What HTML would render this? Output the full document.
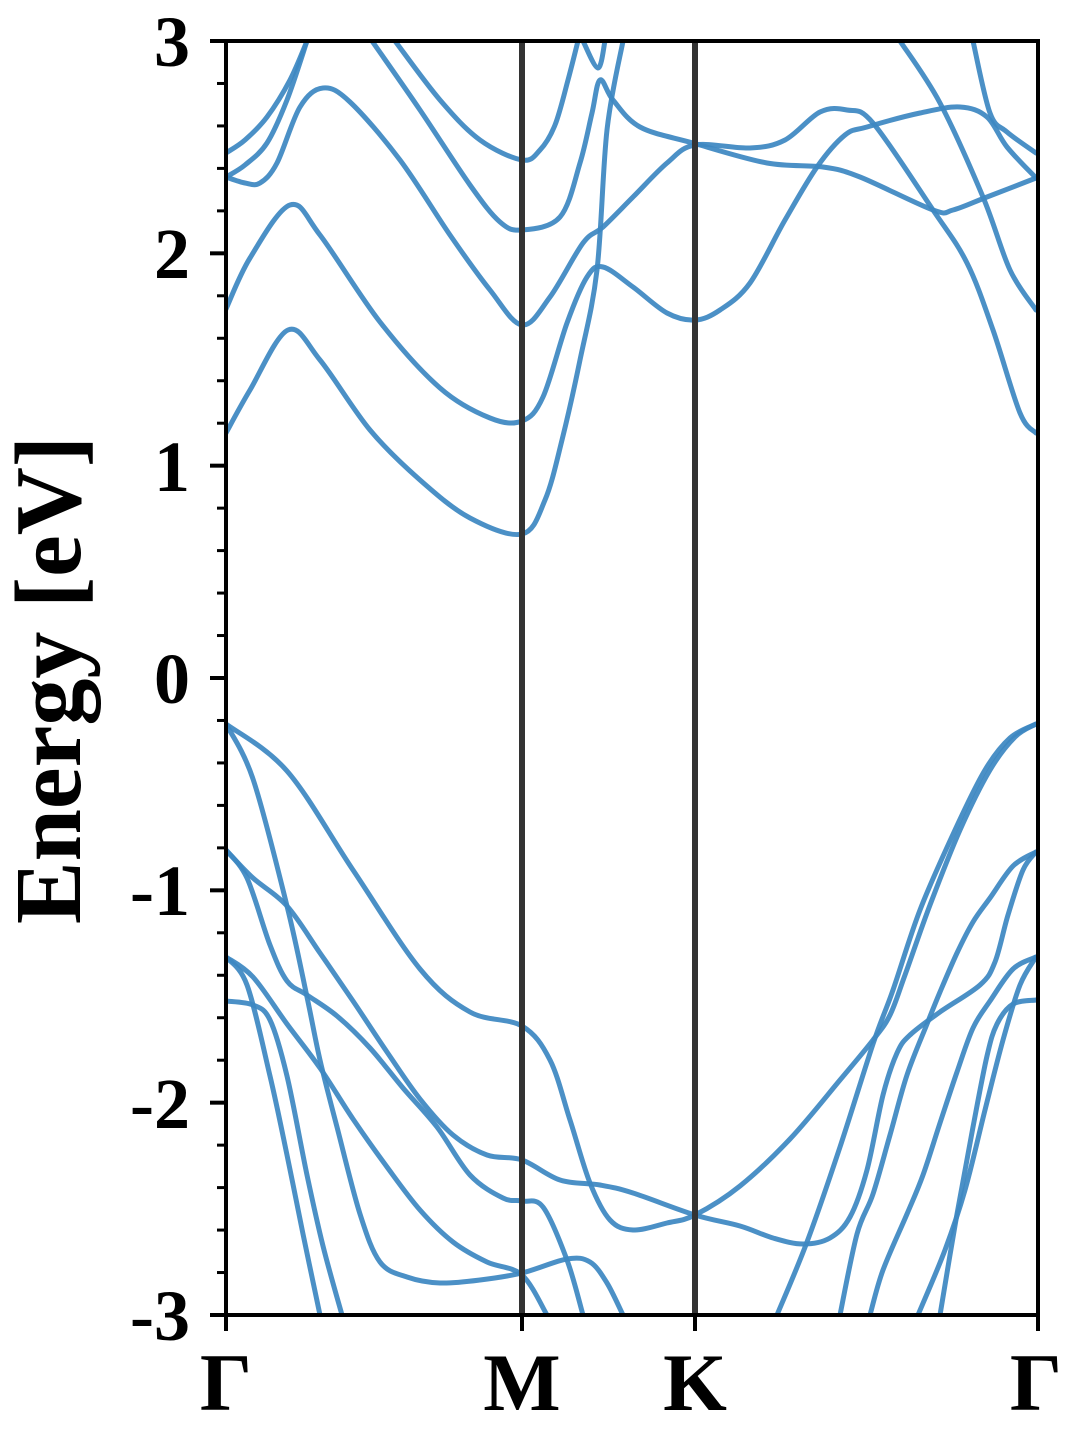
<!DOCTYPE html>
<html><head><meta charset="utf-8"><style>
html,body{margin:0;padding:0;background:#fff;}
svg{display:block;}
text{font-family:"Liberation Serif",serif;font-weight:bold;fill:#000;}
</style></head><body>
<svg id="s" width="1080" height="1440" viewBox="0 0 1080 1440" xmlns="http://www.w3.org/2000/svg">
<defs><clipPath id="c"><rect x="226" y="41" width="812" height="1274"/></clipPath></defs>
<g id="bands" clip-path="url(#c)" fill="none" stroke="#3d88c2" stroke-opacity="0.93" stroke-width="5" stroke-linejoin="round" stroke-linecap="round"></g>
<line x1="522" y1="41" x2="522" y2="1315" stroke="#333" stroke-width="6"/>
<line x1="695" y1="41" x2="695" y2="1315" stroke="#333" stroke-width="6"/>
<rect x="226" y="41" width="812" height="1274" fill="none" stroke="#000" stroke-width="4"/>
<g id="ticks" stroke="#000"></g>
<g font-size="72" text-anchor="end">
<text x="190" y="66">3</text><text x="190" y="278">2</text><text x="190" y="491">1</text>
<text x="190" y="703">0</text><text x="190" y="915">-1</text><text x="190" y="1128">-2</text><text x="190" y="1340">-3</text>
</g>
<g font-size="82" text-anchor="middle">
<text x="226" y="1410">Γ</text><text x="522" y="1410">M</text><text x="695" y="1410">K</text><text x="1036" y="1410">Γ</text>
</g>
<text font-size="94" text-anchor="middle" transform="translate(80,680) rotate(-90)">Energy [eV]</text>
</svg>
<script>
var B=[
[[226,433],[250,390],[288,330],[320,360],[370,430],[420,480],[470,518],[522,534],[545,500],[562,440],[580,360],[597,270],[607,130],[623,41]],
[[226,309],[250,258],[290,205],[320,235],[380,322],[440,388],[490,418],[522,421],[543,397],[567,323],[587,277],[603,267],[633,287],[667,313],[695,320],[720,310],[750,283],[785,220],[817,167],[845,135],[867,127],[920,113],[960,107],[987,117],[1007,147],[1036,178]],
[[226,177],[245,183],[260,183],[277,163],[300,107],[323,88],[350,102],[400,160],[450,235],[490,290],[522,325],[550,297],[583,243],[603,227],[633,197],[667,163],[695,145],[750,148],[785,140],[820,112],[847,110],[873,123],[933,210],[967,263],[993,330],[1020,413],[1036,433]],
[[226,153],[245,140],[267,117],[290,80],[307,41]],
[[226,177],[245,165],[267,143],[287,100],[307,41]],
[[372,41],[420,110],[470,185],[500,222],[522,230],[560,217],[580,163],[592,113],[600,80],[613,100],[640,127],[693,143],[767,163],[823,167],[860,177],[933,210],[953,210],[987,197],[1036,178]],
[[395,41],[440,100],[480,140],[522,160],[540,150],[555,125],[568,80],[578,41]],
[[583,41],[598,68],[605,41]],
[[900,41],[940,103],[983,197],[1010,270],[1036,310]],
[[973,41],[990,113],[1007,132],[1036,153]],
[[226,724],[287,771],[353,870],[420,969],[470,1012],[522,1026],[550,1060],[570,1120],[590,1183],[610,1220],[633,1230],[667,1223],[695,1215],[740,1186],[790,1139],[840,1080],[873,1040],[890,1015],[905,975],[930,905],[960,830],[990,770],[1015,737],[1036,724]],
[[226,724],[253,779],[287,906],[307,997],[320,1060],[337,1127],[360,1214],[380,1262],[407,1277],[440,1283],[480,1280],[522,1273],[567,1259],[590,1262],[607,1283],[623,1315]],
[[226,850],[253,878],[287,906],[320,953],[353,1001],[387,1052],[420,1099],[453,1135],[487,1155],[522,1160],[560,1180],[600,1185],[633,1193],[695,1215],[740,1226],[773,1238],[803,1244],[830,1238],[850,1217],[867,1170],[883,1095],[897,1053],[910,1035],[940,1012],[980,985],[995,962],[1008,915],[1023,870],[1036,852]],
[[226,850],[247,878],[270,945],[287,981],[307,995],[337,1016],[370,1048],[403,1088],[437,1127],[470,1175],[503,1198],[522,1201],[543,1207],[567,1260],[583,1315]],
[[226,957],[253,977],[287,1024],[320,1068],[353,1119],[387,1167],[420,1210],[453,1242],[487,1262],[522,1275],[547,1315]],
[[226,957],[247,985],[270,1076],[287,1155],[303,1234],[320,1315]],
[[226,1001],[253,1005],[270,1020],[287,1076],[307,1175],[323,1246],[342,1315]],
[[777,1315],[807,1242],[840,1147],[873,1044],[893,990],[920,910],[955,830],[985,770],[1010,738],[1036,724]],
[[840,1315],[857,1234],[873,1194],[890,1135],[907,1075],[927,1024],[940,992],[957,953],[973,922],[990,898],[1013,866],[1036,852]],
[[870,1315],[883,1270],[907,1214],[923,1175],[940,1123],[957,1072],[973,1028],[990,1001],[1013,969],[1036,957]],
[[918,1315],[945,1250],[965,1190],[985,1110],[1003,1040],[1020,985],[1036,957]],
[[940,1315],[957,1214],[973,1127],[987,1056],[997,1024],[1013,1004],[1036,1000]]
];
function path(p){var d="M"+p[0][0]+","+p[0][1];for(var i=0;i<p.length-1;i++){var p0=p[i>0?i-1:i],p1=p[i],p2=p[i+1],p3=p[i+2<p.length?i+2:i+1];
var c1x=p1[0]+(p2[0]-p0[0])/6,c1y=p1[1]+(p2[1]-p0[1])/6,c2x=p2[0]-(p3[0]-p1[0])/6,c2y=p2[1]-(p3[1]-p1[1])/6;
d+=" C"+c1x.toFixed(1)+","+c1y.toFixed(1)+" "+c2x.toFixed(1)+","+c2y.toFixed(1)+" "+p2[0]+","+p2[1];}return d;}
var ns="http://www.w3.org/2000/svg",g=document.getElementById("bands");
B.forEach(function(p){var e=document.createElementNS(ns,"path");e.setAttribute("d",path(p));g.appendChild(e);});
var t=document.getElementById("ticks");
for(var k=0;k<=30;k++){var y=41+k*1274/30;var maj=(k%5==0);var l=document.createElementNS(ns,"line");
l.setAttribute("x1",226-(maj?16:9));l.setAttribute("x2",226);l.setAttribute("y1",y);l.setAttribute("y2",y);l.setAttribute("stroke-width",maj?4:3);t.appendChild(l);}
[226,522,695,1038].forEach(function(x){var l=document.createElementNS(ns,"line");l.setAttribute("x1",x);l.setAttribute("x2",x);l.setAttribute("y1",1315);l.setAttribute("y2",1331);l.setAttribute("stroke-width",4);t.appendChild(l);});
</script>
</body></html>
